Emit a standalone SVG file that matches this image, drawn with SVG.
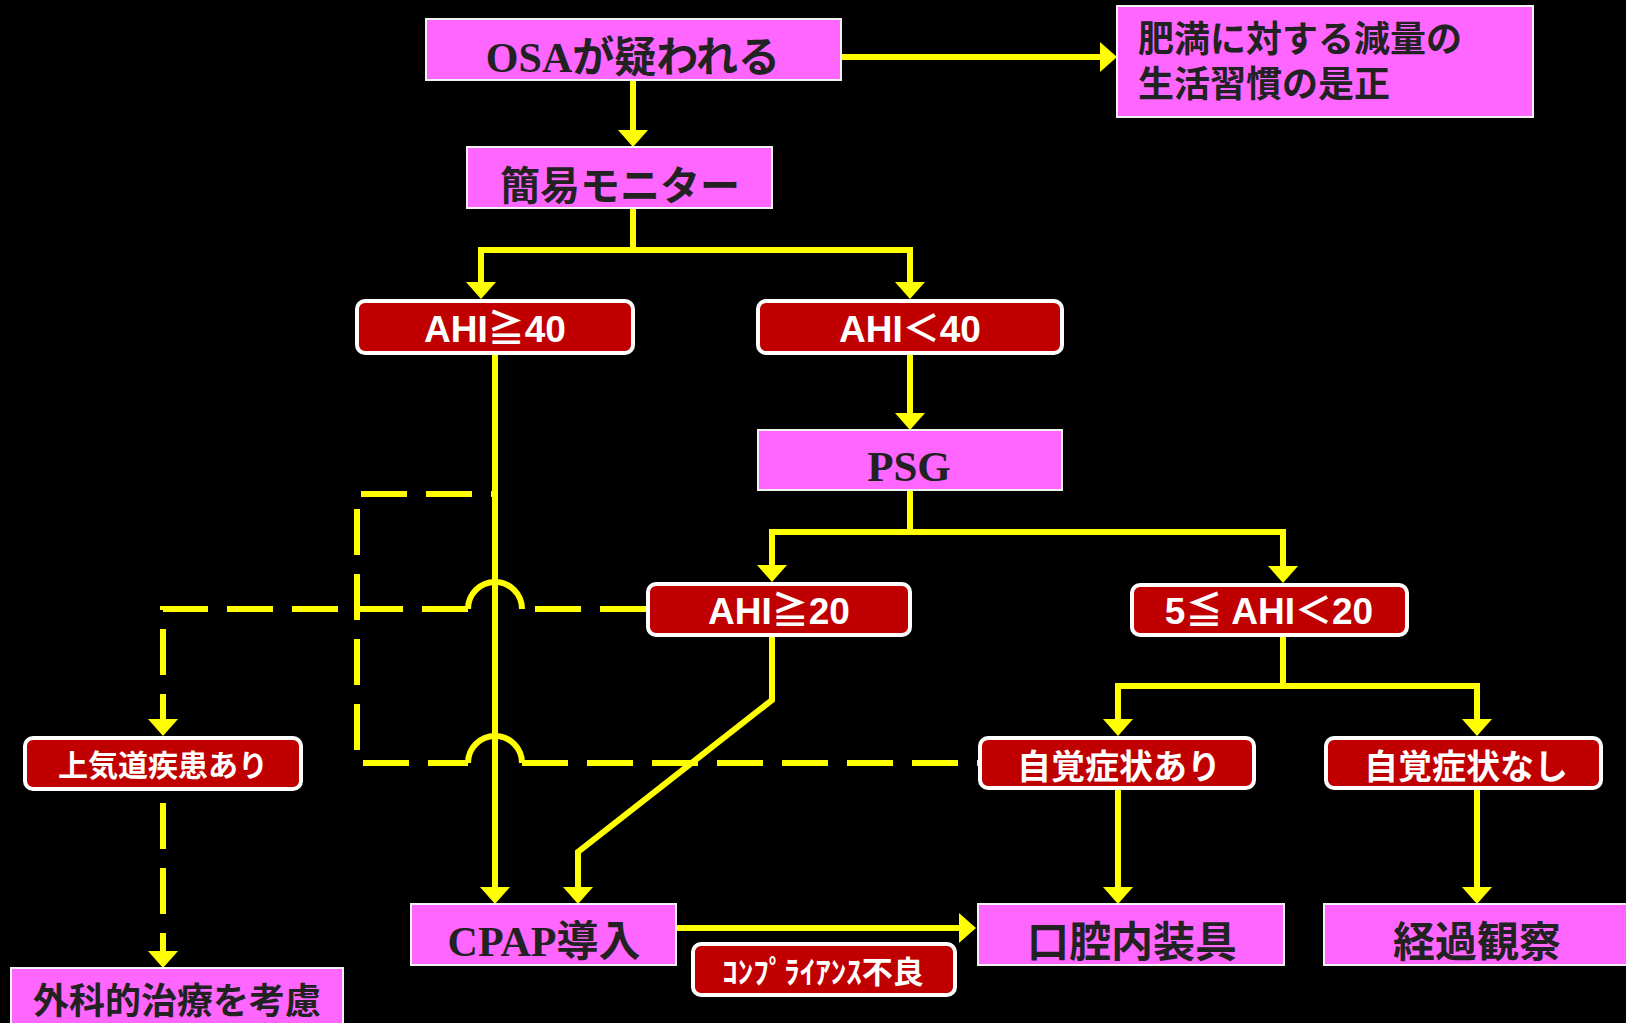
<svg xmlns="http://www.w3.org/2000/svg" width="1626" height="1023" viewBox="0 0 1626 1023">
<defs>
<marker id="ah" markerUnits="userSpaceOnUse" markerWidth="18" markerHeight="30" viewBox="0 -15 18 30" refX="9" refY="0" orient="auto">
<path d="M0,-15 L17,0 L0,15 Z" fill="#FFFF00"/>
</marker>
<style>
.pk{fill:#FF66FF;stroke:#F2F2F2;stroke-width:2}
.rd{fill:#C00000;stroke:#FFFFFF;stroke-width:4}
.tp{fill:#222222;font-weight:bold;font-family:"Liberation Serif","Noto Sans CJK JP",serif;text-anchor:middle}
.tj{fill:#222222;font-weight:bold;font-family:"Noto Sans CJK JP",sans-serif;text-anchor:middle}
.tw{fill:#FFFFFF;font-weight:bold;font-family:"Liberation Sans","Noto Sans CJK JP",sans-serif;text-anchor:middle}
.ln{fill:none;stroke:#FFFF00;stroke-width:6}
.ds{fill:none;stroke:#FFFF00;stroke-width:6;stroke-dasharray:46 19}
</style>
</defs>
<rect width="1626" height="1023" fill="#000000"/>
<g id="connectors">
<path class="ln" d="M633,80 V139" marker-end="url(#ah)"/>
<path class="ln" d="M841,57 H1109" marker-end="url(#ah)"/>
<path class="ln" d="M633,208 V250 H481 V291" marker-end="url(#ah)"/>
<path class="ln" d="M633,250 H910 V291" marker-end="url(#ah)"/>
<path class="ln" d="M910,355 V422" marker-end="url(#ah)"/>
<path class="ln" d="M910,490 V532 H772 V574" marker-end="url(#ah)"/>
<path class="ln" d="M910,532 H1283 V575" marker-end="url(#ah)"/>
<path class="ln" d="M495,355 V896" marker-end="url(#ah)"/>
<path class="ln" d="M772,637 V700 L578,852 V896" marker-end="url(#ah)"/>
<path class="ln" d="M1283,637 V686 H1118 V728" marker-end="url(#ah)"/>
<path class="ln" d="M1283,686 H1477 V728" marker-end="url(#ah)"/>
<path class="ln" d="M1118,790 V896" marker-end="url(#ah)"/>
<path class="ln" d="M1477,790 V896" marker-end="url(#ah)"/>
<path class="ln" d="M676,928 H968" marker-end="url(#ah)"/>
<path class="ds" d="M495,494 H357 V763 H468" stroke-dashoffset="42"/>
<path class="ln" d="M468,763 A27,27 0 0 1 522,763"/>
<path class="ds" d="M522,763 H978"/>
<path class="ds" d="M646,609 H522"/>
<path class="ln" d="M522,609 A27,27 0 0 0 468,609"/>
<path class="ds" d="M468,609 H163 V728" marker-end="url(#ah)"/>
<path class="ds" d="M163,803 V960" marker-end="url(#ah)"/>
</g>
<g id="n-osa"><rect class="pk" x="426" y="19" width="415" height="61"/><text class="tp" x="633" y="72" font-size="42">OSAが疑われる</text></g>
<g id="n-lifestyle"><rect class="pk" x="1117" y="6" width="416" height="111"/><text class="tj" x="1138" y="52" font-size="36" style="text-anchor:start">肥満に対する減量の</text><text class="tj" x="1138" y="97" font-size="36" style="text-anchor:start">生活習慣の是正</text></g>
<g id="n-monitor"><rect class="pk" x="467" y="147" width="305" height="61"/><text class="tj" x="620" y="200" font-size="40">簡易モニター</text></g>
<g id="n-ahi40a"><rect class="rd" x="357" y="301" width="276" height="52" rx="8"/><text class="tw" x="495" y="342" font-size="37">AHI≧40</text></g>
<g id="n-ahi40b"><rect class="rd" x="758" y="301" width="304" height="52" rx="8"/><text class="tw" x="910" y="342" font-size="37">AHI＜40</text></g>
<g id="n-psg"><rect class="pk" x="758" y="430" width="304" height="60"/><text class="tp" x="909" y="481" font-size="43">PSG</text></g>
<g id="n-ahi20"><rect class="rd" x="648" y="584" width="262" height="51" rx="8"/><text class="tw" x="779" y="624" font-size="37">AHI≧20</text></g>
<g id="n-ahi5"><rect class="rd" x="1132" y="585" width="275" height="50" rx="8"/><text class="tw" x="1269" y="624" font-size="37">5≦ AHI＜20</text></g>
<g id="n-airway"><rect class="rd" x="25" y="738" width="276" height="51" rx="8"/><text class="tw" x="163" y="776" font-size="30">上気道疾患あり</text></g>
<g id="n-sympyes"><rect class="rd" x="980" y="738" width="274" height="50" rx="8"/><text class="tw" x="1119" y="779" font-size="34">自覚症状あり</text></g>
<g id="n-sympno"><rect class="rd" x="1326" y="738" width="275" height="50" rx="8"/><text class="tw" x="1466" y="779" font-size="34">自覚症状なし</text></g>
<g id="n-surgery"><rect class="pk" x="11" y="968" width="332" height="70"/><text class="tj" x="177" y="1014" font-size="36">外科的治療を考慮</text></g>
<g id="n-cpap"><rect class="pk" x="411" y="904" width="265" height="61"/><text class="tp" x="544" y="956" font-size="42">CPAP導入</text></g>
<g id="n-compliance"><rect class="rd" x="693" y="944" width="262" height="51" rx="8"/><text class="tw" x="823" y="983" font-size="31">ｺﾝﾌﾟﾗｲｱﾝｽ不良</text></g>
<g id="n-oral"><rect class="pk" x="978" y="904" width="306" height="61"/><text class="tj" x="1132" y="957" font-size="42">口腔内装具</text></g>
<g id="n-observe"><rect class="pk" x="1324" y="904" width="320" height="61"/><text class="tj" x="1477" y="957" font-size="42">経過観察</text></g>
</svg>
